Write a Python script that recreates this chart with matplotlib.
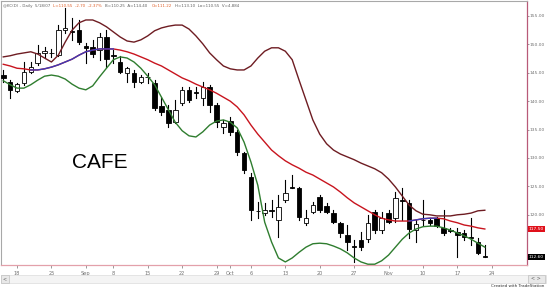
import matplotlib
matplotlib.use("Agg")
import matplotlib.pyplot as plt
from matplotlib.patches import Rectangle

# daily bars, index 0 = Aug 18 (two bars before it are visible)
bar_idx = list(range(-2, 69))

opens = [144.6, 143.4, 141.8, 143.2, 145.1, 146.7, 148.5, 148.5, 148.1, 152.5,
         152.4, 152.5, 149.7, 149.5, 149.0, 151.3, 148.1, 146.9, 145.0, 145.0,
         143.4, 144.3, 143.2, 139.2, 138.5, 136.3, 139.7, 142.0, 141.6, 140.6,
         142.5, 139.3, 135.5, 136.5, 134.6, 130.9, 126.7, 120.7, 120.3, 120.8,
         119.1, 122.6, 124.9, 124.7, 118.6, 120.5, 123.1, 121.5, 120.3, 118.6,
         116.4, 114.5, 115.6, 115.7, 120.5, 117.3, 120.3, 119.4, 122.6, 122.1,
         117.3, 119.1, 119.1, 119.4, 117.7, 117.3, 117.0, 116.8, 116.1, 115.2,
         112.7]
highs = [145.5, 143.7, 143.2, 146.9, 146.9, 149.9, 149.5, 149.2, 153.4, 156.4,
         154.6, 154.3, 150.2, 150.8, 152.0, 152.5, 149.0, 148.0, 146.0, 145.5,
         144.6, 145.0, 143.7, 140.7, 139.3, 140.2, 142.5, 142.5, 142.5, 143.4,
         142.9, 139.7, 136.7, 137.2, 134.9, 131.1, 127.4, 122.3, 122.1, 122.6,
         123.5, 126.1, 127.0, 124.9, 120.8, 122.3, 123.5, 122.1, 120.8, 118.7,
         118.2, 115.6, 117.0, 120.0, 120.8, 120.5, 120.8, 124.0, 124.7, 122.6,
         119.1, 122.6, 119.4, 119.6, 120.8, 117.7, 117.7, 117.3, 119.4, 115.9,
         114.7]
lows = [143.4, 140.6, 141.6, 142.9, 145.0, 146.4, 147.6, 147.8, 148.0, 152.0,
        150.8, 150.1, 146.7, 147.8, 147.3, 146.0, 146.7, 145.0, 143.4, 142.5,
        143.2, 143.2, 138.5, 137.6, 135.5, 136.2, 139.3, 139.9, 140.6, 139.3,
        138.1, 135.5, 134.4, 134.0, 130.5, 127.4, 119.1, 119.4, 120.0, 119.6,
        116.1, 122.3, 124.7, 119.1, 118.2, 120.3, 120.5, 120.3, 118.6, 116.1,
        113.8, 111.7, 113.8, 115.2, 116.8, 116.8, 118.6, 118.7, 119.1, 115.9,
        115.2, 118.2, 118.2, 117.9, 116.4, 117.0, 112.6, 115.6, 114.7, 113.1,
        112.6]
closes = [144.1, 142.0, 143.0, 145.1, 146.0, 148.5, 148.8, 148.4, 152.5, 152.9,
          152.2, 150.4, 149.4, 148.3, 151.3, 147.4, 148.0, 145.1, 145.8, 143.4,
          144.3, 144.2, 138.8, 138.1, 136.2, 138.5, 142.0, 140.2, 141.5, 142.5,
          139.3, 136.3, 136.2, 134.6, 131.1, 127.9, 120.8, 120.6, 120.8, 120.7,
          121.4, 123.8, 124.8, 119.6, 119.4, 121.7, 120.8, 120.5, 118.7, 116.8,
          115.2, 114.4, 114.3, 118.6, 117.3, 119.4, 118.7, 123.0, 122.5, 117.5,
          118.4, 119.0, 118.6, 118.0, 116.8, 117.2, 116.4, 116.1, 116.0, 113.3,
          112.6]

upper = [147.8, 148.0, 148.3, 148.5, 148.7, 148.3, 147.6, 146.9, 148.1, 150.4,
         152.5, 153.8, 154.3, 154.3, 153.8, 153.1, 152.2, 151.3, 150.6, 150.4,
         150.8, 151.5, 152.4, 152.9, 153.2, 153.4, 153.4, 152.7, 151.5, 150.1,
         148.5, 147.3, 146.2, 145.7, 145.5, 145.5, 146.2, 147.6, 148.8, 149.4,
         149.4, 148.8, 147.3, 143.7, 140.2, 136.7, 134.2, 132.5, 131.4, 130.7,
         130.2, 129.7, 129.1, 128.6, 128.1, 127.4, 126.3, 124.9, 123.3, 121.7,
         120.7, 120.1, 120.0, 119.8, 119.8, 119.8, 120.0, 120.1, 120.3, 120.7,
         120.8]
middle = [146.5, 146.2, 145.8, 145.7, 145.5, 145.5, 145.7, 146.0, 146.4, 146.9,
          147.4, 148.1, 148.7, 149.0, 149.2, 149.2, 149.2, 149.0, 148.7, 148.3,
          147.8, 147.3, 146.7, 146.2, 145.5, 144.8, 144.1, 143.6, 143.0, 142.5,
          142.0, 141.4, 140.7, 140.0, 139.0, 137.6, 135.8, 134.2, 132.8, 131.4,
          130.4, 129.5, 128.8, 128.2, 127.5, 127.0, 126.3, 125.6, 124.9, 124.0,
          123.0, 122.1, 121.4, 120.7, 120.0, 119.4, 119.1, 118.9, 118.9, 118.9,
          119.1, 119.3, 119.4, 119.4, 119.3, 118.9, 118.6, 118.2, 118.0, 117.7,
          117.5]
lower = [143.6, 142.9, 142.3, 142.3, 142.9, 143.7, 144.4, 144.6, 144.4, 143.9,
         143.0, 142.3, 142.0, 142.7, 144.3, 145.8, 147.3, 147.8, 147.6, 146.9,
         145.8, 144.4, 142.9, 140.7, 138.5, 136.3, 134.8, 133.9, 133.7, 134.6,
         135.8, 136.5, 136.7, 136.3, 135.3, 132.8, 129.3, 125.2, 118.7, 115.2,
         112.4, 111.7, 112.4, 113.4, 114.3, 114.9, 115.0, 114.9, 114.5, 114.0,
         113.3, 112.4, 111.7, 111.3, 111.3, 111.9, 112.9, 114.3, 115.7, 116.8,
         117.5, 117.9, 118.0, 118.0, 117.7, 117.3, 116.8, 116.3, 115.7, 115.0,
         114.3]

# bar-index ranges where the middle line turns blue
blue_spans = [(2, 14), (57, 61)]

tick_pos = [0, 5, 10, 14, 19, 24, 29, 31, 34, 39, 44, 49, 54, 59, 64, 69]
tick_labels = ['18', '25', 'Sep', '8', '15', '22', '29', 'Oct', '6', '13',
               '20', '27', 'Nov', '10', '17', '24']
price_ticks = [155, 150, 145, 140, 135, 130, 125, 120]

W, H = 547, 288
fig = plt.figure(figsize=(W / 100, H / 100), dpi=100)
fig.patch.set_facecolor('white')
ax = fig.add_axes([1 / W, 1 - 265 / H, 526 / W, 264 / H])

# candles
for i, o, h, l, c in zip(bar_idx, opens, highs, lows, closes):
    ax.plot([i, i], [l, h], color='black', lw=0.8, zorder=2)
    fill = 'black' if c < o else 'white'
    ax.add_patch(Rectangle((i - 0.33, min(o, c)), 0.66, max(abs(c - o), 0.08),
                           facecolor=fill, edgecolor='black', lw=0.6, zorder=3))

# bands
ax.plot(bar_idx, upper, color='#6e1c22', lw=1.0, zorder=4)
ax.plot(bar_idx, middle, color='#c8141e', lw=1.0, zorder=4)
for a, b in blue_spans:
    sl = slice(a + 2, b + 3)
    ax.plot(bar_idx[sl], middle[sl], color='#3b3bb8', lw=1.0, zorder=5)
ax.plot(bar_idx, lower, color='#2f7d2f', lw=1.0, zorder=4)

ax.set_xlim(-2.33, 74.13)
ax.set_ylim(111.16, 157.64)

ax.yaxis.tick_right()
ax.set_yticks(price_ticks)
ax.set_yticklabels([f'{p:.2f}' for p in price_ticks])
ax.set_xticks(tick_pos)
ax.set_xticklabels(tick_labels)
ax.tick_params(axis='both', labelsize=3.6, colors='#707070', length=2,
               width=0.5, pad=1)
ax.tick_params(axis='y', labelsize=3.2, length=1.5, pad=0.5)
ax.tick_params(axis='x', pad=2)

for side in ['left', 'top']:
    ax.spines[side].set_color('#a8a8a8')
    ax.spines[side].set_linewidth(0.8)
ax.spines['right'].set_color('#b85a78')
ax.spines['bottom'].set_color('#e3a0aa')
ax.spines['right'].set_linewidth(0.9)
ax.spines['bottom'].set_linewidth(0.9)

# last value labels on the price scale
ax.annotate(f'{middle[-1]:.2f}', xy=(1.0, middle[-1]),
            xycoords=('axes fraction', 'data'), xytext=(1.2, 0),
            textcoords='offset points', fontsize=3.2, color='white',
            va='center', ha='left',
            bbox=dict(boxstyle='square,pad=0.2', fc='#e0101a', ec='none'))
ax.annotate(f'{closes[-1]:.2f}', xy=(1.0, closes[-1]),
            xycoords=('axes fraction', 'data'), xytext=(1.2, 0),
            textcoords='offset points', fontsize=3.2, color='white',
            va='center', ha='left',
            bbox=dict(boxstyle='square,pad=0.2', fc='black', ec='none'))

ax.text(0.188, 0.39, 'CAFE', transform=ax.transAxes, fontsize=15,
        family='Liberation Sans', ha='center', va='center', color='black')

# header line
ty = 1 - 6 / H
gray, orange = '#606060', '#e0602a'
fig.text(3 / W, ty, '@KC(D) - Daily  5/18/07', fontsize=2.9, color=gray, va='center')
fig.text(53 / W, ty, 'L=110.55  -2.70  -2.37%', fontsize=2.9, color=orange, va='center')
fig.text(105 / W, ty, 'B=110.25  A=114.40', fontsize=2.9, color=gray, va='center')
fig.text(152 / W, ty, 'O=111.22', fontsize=2.9, color=orange, va='center')
fig.text(175 / W, ty, 'H=113.10  Lo=110.55  V=4,884', fontsize=2.9, color=gray, va='center')

# scroll bar and footer
fig.patches.append(Rectangle((1 / W, 1 - 283 / H), 545 / W, 8 / H,
                             transform=fig.transFigure, fc='#f4f4f4',
                             ec='#dcdcdc', lw=0.5))
fig.patches.append(Rectangle((1 / W, 1 - 283 / H), 8 / W, 8 / H,
                             transform=fig.transFigure, fc='#e8e8e8',
                             ec='#c0c0c0', lw=0.5))
fig.patches.append(Rectangle((528 / W, 1 - 283 / H), 17 / W, 8 / H,
                             transform=fig.transFigure, fc='#e8e8e8',
                             ec='#c0c0c0', lw=0.5))
fig.text(5 / W, 1 - 279 / H, '<', fontsize=3.5, color='#606060', ha='center', va='center')
fig.text(536 / W, 1 - 279 / H, '< >', fontsize=3.5, color='#606060', ha='center', va='center')
fig.text(544 / W, 1 - 286 / H, 'Created with TradeStation', fontsize=3.0,
         color='#303030', ha='right', va='center')

fig.savefig('out.png', dpi=100, facecolor='white')
